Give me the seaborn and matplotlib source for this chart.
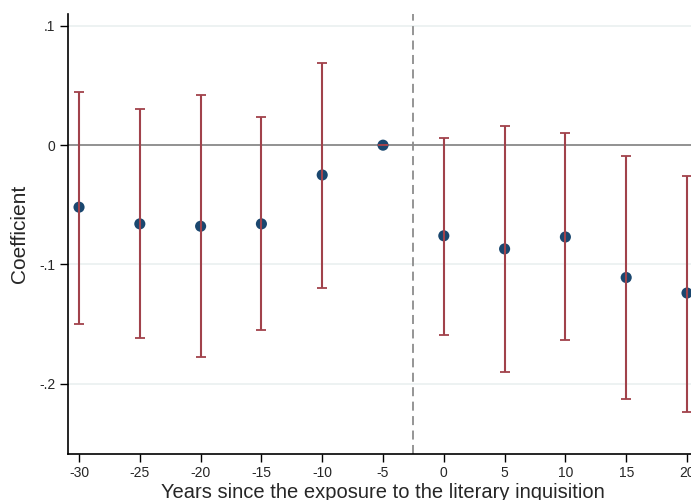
import numpy as np
import pandas as pd
import matplotlib
matplotlib.use("Agg")
import matplotlib.pyplot as plt
import seaborn as sns

# Event-study coefficients
years = [-30, -25, -20, -15, -10, -5, 0, 5, 10, 15, 20]
coef = [-0.052, -0.066, -0.068, -0.066, -0.025, 0.0, -0.076, -0.087, -0.077, -0.111, -0.124]
ci_low = [-0.150, -0.162, -0.178, -0.155, -0.120, 0.0, -0.159, -0.190, -0.163, -0.213, -0.224]
ci_high = [0.045, 0.030, 0.042, 0.024, 0.069, 0.0, 0.006, 0.016, 0.010, -0.009, -0.026]

y_ticks = [0.1, 0, -0.1, -0.2]
y_tick_labels = [".1", "0", "-.1", "-.2"]
x_ticks = [-30, -25, -20, -15, -10, -5, 0, 5, 10, 15, 20]

df = pd.DataFrame({"year": years, "coef": coef, "lo": ci_low, "hi": ci_high})

sns.set_theme(style="white")
plt.rcParams["font.family"] = ["Liberation Sans", "DejaVu Sans"]

fig = plt.figure(figsize=(6.91, 5), dpi=100)
ax = fig.add_axes([0.098, 0.092, 0.902, 0.88])

# light grid lines
for t in y_ticks:
    if t != 0:
        ax.axhline(t, color="#eaf0f0", lw=1.2, zorder=0)
ax.axhline(0, color="#7f7f7f", lw=1.2, zorder=1)
ax.axvline(-2.5, color="#8c8c8c", lw=1.3, ls=(0, (5, 3)), zorder=1)

sns.scatterplot(data=df, x="year", y="coef", color="#1a476f", s=64,
                edgecolor="none", zorder=3, ax=ax, legend=False)

ax.errorbar(df["year"], df["coef"],
            yerr=[df["coef"] - df["lo"], df["hi"] - df["coef"]],
            fmt="none", ecolor="#a1424b", elinewidth=1.5, capsize=3.7,
            capthick=1.3, zorder=4)

ax.set_xlim(-30.93, 20.33)
ax.set_ylim(-0.259, 0.110)
ax.set_yticks(y_ticks)
ax.set_yticklabels(y_tick_labels)
ax.set_xticks(x_ticks)
ax.set_xticklabels([str(v) for v in x_ticks])

for side in ["top", "right"]:
    ax.spines[side].set_visible(False)
for side in ["left", "bottom"]:
    ax.spines[side].set_color("black")
    ax.spines[side].set_linewidth(1.2)

ax.tick_params(axis="both", which="major", direction="out", length=6,
               width=1.0, color="black", labelsize=10, bottom=True, left=True)
ax.tick_params(axis="x", pad=2.5)
ax.tick_params(axis="y", pad=3)

ax.set_xlabel("Years since the exposure to the literary inquisition", fontsize=14.5)
ax.xaxis.label.set_va("baseline")
ax.xaxis.set_label_coords(0.505, -0.099)

ax.set_ylabel("Coefficient", fontsize=15)
ax.yaxis.label.set_va("center")
ax.yaxis.set_label_coords(-0.078, 0.5)

fig.savefig("out.png", dpi=100)
